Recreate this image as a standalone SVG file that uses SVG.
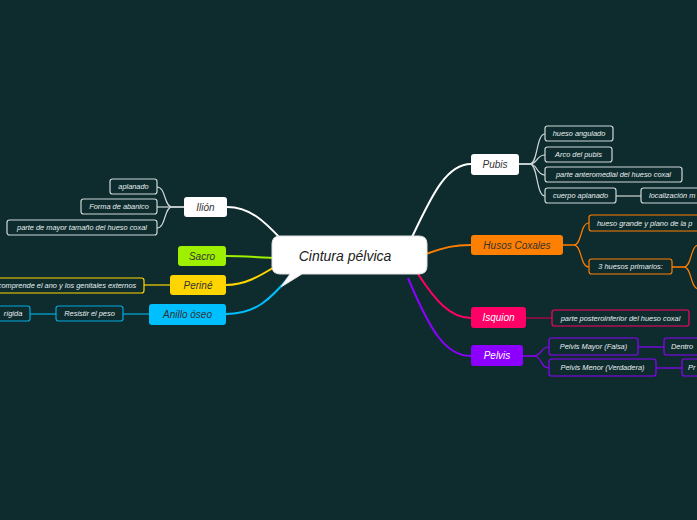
<svg xmlns="http://www.w3.org/2000/svg" width="697" height="520" viewBox="0 0 697 520">
<style>
text{font-family:"Liberation Sans",Arial,sans-serif;font-style:italic;}
.main{font-size:10px;text-anchor:middle;}
.sub{font-size:7.4px;fill:#e8eeee;text-anchor:middle;}
.sb{fill:#0e2c2e;stroke-width:1.2;}
.c{fill:none;stroke-width:2;}
.s{fill:none;stroke-width:1.2;}
</style>
<rect width="697" height="520" fill="#0e2c2e"/>
<g id="connectors">
<path class="c" stroke="#ffffff" d="M280,238 C265,222 250,207 227,207"/>
<path class="c" stroke="#9ef000" d="M274,258 C255,257 240,256 226,256"/>
<path class="c" stroke="#ffd500" d="M276,266 C260,276 245,285 226,285"/>
<path class="c" stroke="#00bfff" d="M290,276 C270,300 255,314 226,314"/>
<path class="c" stroke="#ffffff" d="M412,237 C430,200 445,164 471,164"/>
<path class="c" stroke="#ff7f00" d="M426,254 C445,247 455,245 471,245"/>
<path class="c" stroke="#ff0066" d="M418,274 C435,300 450,318 471,318"/>
<path class="c" stroke="#8c00ff" d="M408,278 C430,330 445,356 471,356"/>
<g stroke="#d0d8d8">
<path class="s" d="M184,207 L172,207 C164,207 166,187 157,187"/>
<path class="s" d="M184,207 L172,207 C164,207 166,207 157,207"/>
<path class="s" d="M184,207 L172,207 C164,207 166,228 157,228"/>
<path class="s" d="M519,164 L530,164 C538,164 536,134 545,134"/>
<path class="s" d="M519,164 L530,164 C538,164 536,155 545,155"/>
<path class="s" d="M519,164 L530,164 C538,164 536,175 545,175"/>
<path class="s" d="M519,164 L530,164 C538,164 536,196 545,196"/>
<path class="s" d="M616,196 L641,196"/>
</g>
<path class="s" stroke="#ffd500" d="M170,285 L144,285"/>
<path class="s" stroke="#00bfff" d="M149,314 L123,314 M56,314 L30,314"/>
<g stroke="#ff7f00">
<path class="s" d="M563,245 L574,245 C582,245 580,223 589,223"/>
<path class="s" d="M563,245 L574,245 C582,245 580,267 589,267"/>
<path class="s" d="M672,267 L684,267 C692,267 690,245 699,245"/>
<path class="s" d="M672,267 L684,267 C692,267 690,289 699,289"/>
</g>
<path class="s" stroke="#c0004c" d="M526,318 L552,318"/>
<g stroke="#8c00ff">
<path class="s" d="M523,356 L534,356 C542,356 540,347 549,347"/>
<path class="s" d="M523,356 L534,356 C542,356 540,368 549,368"/>
<path class="s" d="M638,347 L664,347"/>
<path class="s" d="M656,368 L682,368"/>
</g>
</g>
<g id="central">
<path d="M280,236 L419,236 Q427,236 427,244 L427,266 Q427,274 419,274 L302,274 L281,287 L290,274 L280,274 Q272,274 272,266 L272,244 Q272,236 280,236 Z" fill="#ffffff" stroke="#e0e0e0"/>
<text x="345" y="261" style="font-size:14px;text-anchor:middle;fill:#222">Cintura pélvica</text>
</g>
<g id="ilion">
<rect x="184" y="197" width="43" height="20" rx="3" fill="#ffffff"/>
<text class="main" x="205.5" y="211" fill="#333">Ilión</text>
</g>
<g id="ilion-1"><rect class="sb" x="110" y="179" width="47" height="15" rx="2.5" stroke="#d0d8d8"/><text class="sub" x="133.5" y="189.3">aplanado</text></g>
<g id="ilion-2"><rect class="sb" x="81" y="199" width="76" height="15" rx="2.5" stroke="#d0d8d8"/><text class="sub" x="119" y="209.3">Forma de abanico</text></g>
<g id="ilion-3"><rect class="sb" x="7" y="220" width="150" height="15" rx="2.5" stroke="#d0d8d8"/><text class="sub" x="82" y="230.3">parte de mayor tamaño del hueso coxal</text></g>
<g id="sacro">
<rect x="178" y="246" width="48" height="20" rx="3" fill="#9ef000"/>
<text class="main" x="202" y="260" fill="#333">Sacro</text>
</g>
<g id="perine">
<rect x="170" y="275" width="56" height="20" rx="3" fill="#ffd500"/>
<text class="main" x="198" y="289" fill="#333">Periné</text>
</g>
<g id="perine-1"><rect class="sb" x="-6" y="278" width="150" height="15" rx="2.5" stroke="#ffd500"/><text class="sub" x="67" y="288.3">comprende el ano y los genitales externos</text></g>
<g id="anillo">
<rect x="149" y="304" width="77" height="21" rx="3" fill="#00bfff"/>
<text class="main" x="187.5" y="318" fill="#333">Anillo óseo</text>
</g>
<g id="anillo-1"><rect class="sb" x="56" y="306" width="67" height="15" rx="2.5" stroke="#00a8e0"/><text class="sub" x="89.5" y="316.3">Resistir el peso</text></g>
<g id="anillo-2"><rect class="sb" x="-12" y="306" width="42" height="15" rx="2.5" stroke="#00a8e0"/><text class="sub" x="13" y="316.3">rígida</text></g>
<g id="pubis">
<rect x="471" y="154" width="48" height="21" rx="3" fill="#ffffff"/>
<text class="main" x="495" y="168" fill="#333">Pubis</text>
</g>
<g id="pubis-1"><rect class="sb" x="545" y="126" width="68" height="15" rx="2.5" stroke="#d0d8d8"/><text class="sub" x="579" y="136.3">hueso angulado</text></g>
<g id="pubis-2"><rect class="sb" x="545" y="147" width="67" height="15" rx="2.5" stroke="#d0d8d8"/><text class="sub" x="578.5" y="157.3">Arco del pubis</text></g>
<g id="pubis-3"><rect class="sb" x="545" y="167" width="137" height="15" rx="2.5" stroke="#d0d8d8"/><text class="sub" x="613.5" y="177.3">parte anteromedial del hueso coxal</text></g>
<g id="pubis-4"><rect class="sb" x="545" y="188" width="71" height="15" rx="2.5" stroke="#d0d8d8"/><text class="sub" x="580.5" y="198.3">cuerpo aplanado</text></g>
<g id="pubis-5"><rect class="sb" x="641" y="188" width="70" height="15" rx="2.5" stroke="#d0d8d8"/><text class="sub" x="649" y="198.3" style="text-anchor:start">localización m</text></g>
<g id="husos">
<rect x="471" y="235" width="92" height="20" rx="3" fill="#ff7f00"/>
<text class="main" x="517" y="249" fill="#333">Husos Coxales</text>
</g>
<g id="husos-1"><rect class="sb" x="589" y="215" width="120" height="16" rx="2.5" stroke="#ff7f00"/><text class="sub" x="597" y="226" style="text-anchor:start">hueso grande y plano de la p</text></g>
<g id="husos-2"><rect class="sb" x="589" y="259" width="83" height="15" rx="2.5" stroke="#ff7f00"/><text class="sub" x="630.5" y="269.3">3 huesos primarios:</text></g>
<g id="isquion">
<rect x="471" y="307" width="55" height="21" rx="3" fill="#ff0066"/>
<text class="main" x="498.5" y="321" fill="#ffffff">Isquion</text>
</g>
<g id="isquion-1"><rect class="sb" x="552" y="310" width="137" height="16" rx="2.5" stroke="#ff0066"/><text class="sub" x="620.5" y="320.8">parte posteroinferior del hueso coxal</text></g>
<g id="pelvis">
<rect x="471" y="345" width="52" height="21" rx="3" fill="#8c00ff"/>
<text class="main" x="497" y="359" fill="#ffffff">Pelvis</text>
</g>
<g id="pelvis-1"><rect class="sb" x="549" y="338" width="89" height="17" rx="2.5" stroke="#8c00ff"/><text class="sub" x="593.5" y="349.3">Pelvis Mayor (Falsa)</text></g>
<g id="pelvis-2"><rect class="sb" x="549" y="359" width="107" height="17" rx="2.5" stroke="#8c00ff"/><text class="sub" x="602.5" y="370.3">Pelvis Menor (Verdadera)</text></g>
<g id="pelvis-3"><rect class="sb" x="664" y="338" width="50" height="17" rx="2.5" stroke="#8c00ff"/><text class="sub" x="671" y="349.3" style="text-anchor:start">Dentro</text></g>
<g id="pelvis-4"><rect class="sb" x="682" y="359" width="30" height="17" rx="2.5" stroke="#8c00ff"/><text class="sub" x="688" y="370.3" style="text-anchor:start">Pr</text></g>
</svg>
